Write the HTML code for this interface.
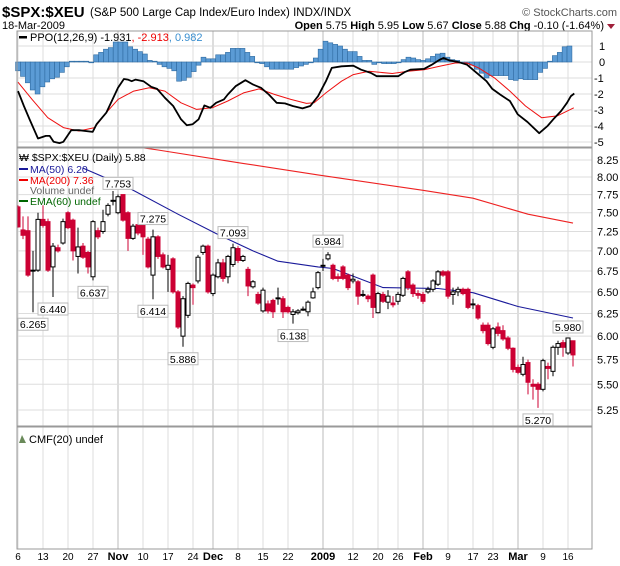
<!DOCTYPE html>
<html><head><meta charset="utf-8"><style>
body{margin:0;background:#fff}
svg{display:block;font-family:"Liberation Sans",Arial,sans-serif}
</style></head><body>
<svg id="c" width="620" height="566" viewBox="0 0 620 566">
<g>
<text x="2" y="17" font-size="15" font-weight="bold">$SPX:$XEU</text>
<text x="90" y="16" font-size="11.5">(S&amp;P 500 Large Cap Index/Euro Index)  INDX/INDX</text>
<text x="617" y="16" font-size="11" fill="#555" text-anchor="end">© StockCharts.com</text>
<text x="2" y="29" font-size="11">18-Mar-2009</text>
<text x="604" y="29" font-size="11" text-anchor="end"><tspan font-weight="bold">Open</tspan> 5.75 <tspan font-weight="bold">High</tspan> 5.95 <tspan font-weight="bold">Low</tspan> 5.67 <tspan font-weight="bold">Close</tspan> 5.88 <tspan font-weight="bold">Chg</tspan> -0.10 (-1.64%)</text>
<path d="M607 24 L615 24 L611 29 Z" fill="#a0203a"/>
</g>
<g id="grid"></g>
<g id="ppo"></g>
<g id="price"></g>
<g id="frames"></g>
</svg>
<script>
// ---- data ----
const opens=[7.58,7.27,7.26,6.76,6.76,7.41,7.38,6.8,7.04,7.1,7.5,7.4,6.93,7.06,6.98,6.68,7.26,7.25,7.48,7.67,7.5,7.75,7.5,7.16,7.34,7.33,7.15,6.7,7.18,6.95,6.77,6.9,6.5,6.0,6.23,6.58,6.63,6.98,7.06,6.48,6.68,6.85,6.68,6.83,7.03,6.88,6.77,6.56,6.47,6.28,6.36,6.4,6.43,6.42,6.32,6.24,6.26,6.3,6.27,6.43,6.55,6.82,6.9,6.82,6.68,6.8,6.7,6.63,6.62,6.47,6.45,6.7,6.26,6.47,6.38,6.37,6.39,6.46,6.74,6.58,6.48,6.47,6.5,6.53,6.59,6.74,6.74,6.47,6.5,6.53,6.53,6.36,6.34,6.12,6.12,5.88,6.1,6.06,5.98,5.87,5.67,5.6,5.72,5.5,5.5,5.45,5.68,5.63,5.88,5.93,5.82,5.95];
const closes=[7.31,7.2,6.7,6.76,7.41,7.33,6.76,7.06,7.0,7.38,7.3,7.0,7.05,6.92,6.8,7.38,7.18,7.38,7.6,7.67,7.72,7.4,7.16,7.32,7.23,7.18,6.8,7.18,6.93,6.8,6.82,6.5,6.1,6.42,6.6,6.55,6.92,7.06,6.5,6.7,6.85,6.66,6.93,7.04,6.88,6.93,6.57,6.62,6.37,6.52,6.28,6.27,6.43,6.27,6.27,6.27,6.28,6.3,6.38,6.5,6.73,6.82,6.95,6.66,6.66,6.66,6.55,6.65,6.45,6.47,6.42,6.32,6.48,6.39,6.45,6.35,6.47,6.66,6.55,6.48,6.46,6.39,6.53,6.63,6.74,6.7,6.45,6.5,6.53,6.48,6.32,6.36,6.2,6.06,5.92,6.08,6.03,5.97,5.87,5.65,5.62,5.7,5.52,5.48,5.45,5.74,5.66,5.88,5.92,5.88,5.98,5.8];
const highs=[7.6,7.45,7.45,7.0,7.5,7.6,7.42,7.1,7.08,7.42,7.52,7.42,7.3,7.1,7.0,7.4,7.3,7.54,7.63,7.8,7.753,7.75,7.52,7.35,7.36,7.35,7.18,7.275,7.2,6.98,6.95,6.92,6.52,6.45,6.62,6.6,6.95,7.08,7.08,6.72,6.9,6.9,6.95,7.093,7.06,6.95,6.8,6.64,6.5,6.55,6.4,6.42,6.55,6.45,6.34,6.3,6.3,6.33,6.4,6.55,6.75,6.9,6.984,6.84,6.72,6.82,6.72,6.72,6.64,6.52,6.47,6.72,6.5,6.5,6.52,6.45,6.5,6.68,6.76,6.6,6.52,6.5,6.56,6.65,6.76,6.76,6.76,6.55,6.56,6.55,6.55,6.42,6.36,6.15,6.15,6.1,6.15,6.12,6.0,5.88,5.7,5.78,5.75,5.55,5.52,5.76,5.72,5.9,5.95,5.96,5.98,5.95];
const lows=[7.3,7.15,6.68,6.265,6.74,7.3,6.74,6.44,6.98,7.08,7.28,6.88,6.72,6.9,6.72,6.637,7.15,7.22,7.45,7.6,7.48,7.38,7.0,7.14,7.2,6.95,6.78,6.414,6.9,6.78,6.5,6.48,6.08,5.886,6.2,6.35,6.6,6.95,6.48,6.45,6.66,6.62,6.6,6.8,6.85,6.86,6.45,6.54,6.35,6.26,6.25,6.2,6.35,6.2,6.25,6.138,6.24,6.28,6.22,6.42,6.53,6.75,6.88,6.64,6.62,6.64,6.52,6.6,6.35,6.44,6.38,6.2,6.25,6.37,6.3,6.32,6.35,6.44,6.52,6.44,6.42,6.36,6.48,6.5,6.57,6.68,6.42,6.35,6.45,6.46,6.3,6.3,6.18,6.03,5.9,5.86,6.0,5.95,5.85,5.62,5.6,5.58,5.4,5.35,5.27,5.43,5.55,5.58,5.8,5.78,5.8,5.68];
const ma50Days=[13,22,32,40,47,52,60,63,73,84,91,100,111];
const ma50Vals=[8.13,7.85,7.48,7.21,7.0,6.87,6.8,6.78,6.55,6.54,6.49,6.33,6.2];
const ma200Days=[10,28,45,60,81,91,102,111];
const ma200Vals=[8.6,8.4,8.2,8.03,7.81,7.7,7.48,7.36];
const noteDays=[3,7,15,20,27,27,33,43,55,62,110,104];
const noteVals=[6.265,6.440,6.637,7.753,7.275,6.414,5.886,7.093,6.138,6.984,5.980,5.270];
const noteAbove=[0,0,0,1,1,0,0,1,0,1,1,0];
const priceTicks=[8.25,8.00,7.75,7.50,7.25,7.00,6.75,6.50,6.25,6.00,5.75,5.50,5.25];
const hist=[-0.55,-0.9,-1.3,-1.75,-2.0,-1.55,-1.25,-1.05,-0.95,-0.65,-0.3,0.05,0.05,0.05,0.05,-0.05,0.45,0.6,0.8,0.9,1.25,1.25,1.25,0.95,0.8,0.65,0.5,0.1,0.05,-0.15,-0.3,-0.4,-0.55,-1.2,-1.15,-0.95,-0.6,-0.2,0.3,0.2,0.2,0.45,0.45,0.6,0.85,0.85,0.85,0.6,0.35,0.0,-0.1,-0.3,-0.45,-0.45,-0.45,-0.45,-0.45,-0.35,-0.25,-0.15,-0.05,0.25,0.8,1.3,1.2,1.1,1.0,0.8,0.65,0.65,0.35,0.1,0.1,-0.15,-0.05,-0.1,-0.1,-0.1,-0.05,0.15,0.3,0.25,0.15,0.1,0.2,0.35,0.5,0.55,0.3,0.15,0.1,0.0,-0.1,-0.2,-0.45,-0.7,-1.0,-0.85,-0.85,-0.85,-0.85,-1.1,-1.15,-1.05,-1.1,-1.1,-1.1,-0.65,-0.4,0.05,0.4,0.6,0.95,1.0];
const ppoDays=[0,1.2,2.4,4.1,5.7,6.5,7.3,8.5,9.3,10.9,12.5,15.3,16.1,18.1,20.5,21.7,22.5,23.3,24.1,25.7,27.3,28.5,30.1,31.8,33.4,34.6,35.8,37.0,38.2,39.4,40.6,42.2,43.0,44.6,46.6,48.2,49.8,51.4,53.0,54.7,56.3,58.3,59.9,61.5,63.1,64.3,66.3,68.7,70.3,72.3,73.5,75.9,77.9,79.2,80.4,83.2,84.8,86.4,87.2,88.4,90.4,92.0,93.6,96.0,97.2,98.8,100.8,102.4,104.4,106.8,108.5,109.7,111.3,112.5,113.3,114];
const ppoVals=[-1.82,-2.75,-3.6,-4.78,-4.62,-4.62,-4.99,-5.07,-4.99,-4.26,-4.26,-4.37,-3.89,-3.17,-1.61,-1.06,-1.1,-1.2,-1.1,-1.2,-1.55,-1.68,-2.24,-2.75,-3.58,-3.95,-3.89,-3.58,-2.71,-2.86,-2.55,-2.34,-2.03,-1.51,-1.14,-1.41,-1.61,-2.03,-2.55,-2.59,-2.75,-2.9,-2.75,-2.13,-1.2,-0.37,-0.27,-0.23,-0.48,-0.68,-0.89,-0.89,-0.89,-0.64,-0.48,-0.43,-0.17,0.14,0.25,0.1,-0.02,-0.17,-0.58,-1.2,-1.68,-2.03,-2.44,-3.27,-3.75,-4.45,-4.0,-3.58,-3.06,-2.55,-2.13,-1.97];
const sigDays=[0,2.9,6.1,9.3,12.5,15.7,18.1,20.5,23.7,26.9,30.1,33.4,36.6,39.8,43.0,46.2,49.4,52.6,55.9,59.1,60.7,63.1,66.3,68.7,71.9,76.7,79.9,83.2,86.4,89.6,92.0,94.4,97.6,100.8,104.0,107.3,110.5,113.9];
const sigVals=[-1.26,-2.35,-3.48,-4.1,-4.31,-4.1,-3.17,-2.34,-1.82,-1.61,-1.82,-2.55,-2.96,-2.86,-2.44,-1.93,-1.68,-2.03,-2.34,-2.59,-2.55,-1.93,-1.2,-0.79,-0.58,-0.72,-0.58,-0.48,-0.27,-0.06,-0.06,-0.37,-0.99,-1.82,-2.75,-3.48,-3.37,-2.86];
const ppoTicks=[1,0,-1,-2,-3,-4,-5];
const dateDays=[0,5,10,15,20,25,30,35,39,44,49,54,61,67,72,76,81,86,91,95,100,105,110];
const dateLabels=["6","13","20","27","Nov","10","17","24","Dec","8","15","22","2009","12","20","26","Feb","9","17","23","Mar","9","16"];
const dateBold=[0,0,0,0,1,0,0,0,1,0,0,0,1,0,0,0,1,0,0,0,1,0,0];

// ---- layout ----
const L=17,R=592;
const P1={t:31,b:147}, P2={t:148,b:426}, P3={t:427,b:549};
const NS="http://www.w3.org/2000/svg";
function mk(tag,attrs,parent){const e=document.createElementNS(NS,tag);for(const k in attrs)e.setAttribute(k,attrs[k]);parent.appendChild(e);return e;}
const xD=i=>18+i*5.0;
const xP=d=>18+d*4.88;
const yP=v=>62-v*16;
const LT=Math.log(8.25),LB=Math.log(5.25);
const yPr=p=>160+(LT-Math.log(p))*(250/(LT-LB));

const grid=document.getElementById('grid');
const ppoG=document.getElementById('ppo');
const priceG=document.getElementById('price');
const frames=document.getElementById('frames');

dateDays.forEach((d,i)=>{
  const x=xD(d);
  [P1,P2,P3].forEach(p=>{
    const ln=mk('line',{x1:x,x2:x,y1:p.t,y2:p.b,stroke:dateBold[i]?'#bbb':'#ddd','stroke-width':1},grid);
    
    
  });
  const t=mk('text',{x:x,y:560,'font-size':dateBold[i]?11:10,'font-weight':dateBold[i]?'bold':'normal','text-anchor':'middle'},grid);
  t.textContent=dateLabels[i];
  
  
});
priceTicks.forEach(v=>{
  const y=yPr(v);
  const ln=mk('line',{x1:L,x2:R,y1:y,y2:y,stroke:'#ddd'},grid);
  
  
  const t=mk('text',{x:597,y:y+4,'font-size':11},grid);
  t.textContent=v.toFixed(2);
  
  
});
ppoTicks.forEach(v=>{
  const y=yP(v);
  const ln=mk('line',{x1:L,x2:R,y1:y,y2:y,stroke:'#ddd'},grid);
  
  
  const t=mk('text',{x:v<0?594:599,y:y+4,'font-size':11},grid);
  t.textContent=String(v);
  
  
});

hist.forEach((v,i)=>{
  const x=xP(i)-2.4, y0=yP(0), y1=yP(v);
  const r=mk('rect',{x:x,y:Math.min(y0,y1),width:4.88,height:Math.max(0.8,Math.abs(y1-y0)),fill:'#5b9bd5',stroke:'#2e6aa0','stroke-width':0.6},ppoG);
  
  
});
function poly(days,vals,xf,yf,color,w,parent,name){
  const pts=days.map((d,i)=>xf(d).toFixed(1)+','+yf(vals[i]).toFixed(1)).join(' ');
  const p=mk('polyline',{points:pts,fill:'none',stroke:color,'stroke-width':w,'stroke-linejoin':'round'},parent);
  
  
}
poly(sigDays,sigVals,xP,yP,'#ee1111',1,ppoG,'ppo-signal-line');
poly(ppoDays,ppoVals,xP,yP,'#000',1.8,ppoG,'ppo-line');

const defs=mk('defs',{},document.getElementById('c'));
const cp=mk('clipPath',{id:'pclip'},defs);
mk('rect',{x:L,y:P2.t,width:R-L,height:P2.b-P2.t},cp);
priceG.setAttribute('clip-path','url(#pclip)');

poly(ma200Days,ma200Vals,xD,yPr,'#ee2222',1.1,priceG,'ma200-line');
poly(ma50Days,ma50Vals,xD,yPr,'#1a1a9a',1.1,priceG,'ma50-line');

opens.forEach((o,i)=>{
  const c=closes[i], x=xD(i), up=c>=o;
  const col=up?'#000':'#cc0033';
  const w=mk('line',{x1:x,x2:x,y1:yPr(highs[i]),y2:yPr(lows[i]),stroke:col,'stroke-width':1},priceG);
  
  
  const yt=yPr(Math.max(o,c)), yb=yPr(Math.min(o,c));
  const b=mk('rect',{x:x-2,y:yt,width:4,height:Math.max(1,yb-yt),fill:up?'#fff':'#cc0033',stroke:col,'stroke-width':1},priceG);
  
  
});
noteDays.forEach((d,i)=>{
  const x=xD(d), v=noteVals[i];
  const y=noteAbove[i]?yPr(v)-11:yPr(v)+12;
  const g=mk('g',{},priceG);
  
  
  mk('rect',{x:x-15,y:y-6,width:30,height:12,fill:'#fff',stroke:'#bbb','stroke-width':1},g);
  const t=mk('text',{x:x,y:y+4,'font-size':10.5,'text-anchor':'middle'},g);
  t.textContent=v.toFixed(3);
});

[P1,P2,P3].forEach((p,i)=>{
  const r=mk('rect',{x:L,y:p.t,width:R-L,height:p.b-p.t,fill:'none',stroke:'#999','stroke-width':1},frames);
  
  
});
function txt(x,y,s,fill,name,size){const t=mk('text',{x:x,y:y,'font-size':size||11,fill:fill||'#000'},frames);t.textContent=s;return t;}
mk('rect',{x:19,y:36,width:8,height:2.5,fill:'#000'},frames);
const lg=txt(30,41,'','#000','ppo-legend');
[['PPO(12,26,9) -1.931','#000'],[', -2.913','#e00'],[', 0.982','#3a8fd0']].forEach(a=>{const s=mk('tspan',{fill:a[1]},lg);s.textContent=a[0];});
mk('rect',{x:19,y:168,width:9,height:2,fill:'#1a1a9a'},frames);
mk('rect',{x:19,y:179,width:9,height:2,fill:'#e00'},frames);
mk('rect',{x:19,y:200,width:9,height:2,fill:'#060'},frames);
txt(19,161,'₩ $SPX:$XEU (Daily) 5.88','#000','price-legend',10.5);
txt(30,173,'MA(50) 6.20','#1a1a9a','ma50-legend',10.5);
txt(30,184,'MA(200) 7.36','#e00','ma200-legend',10.5);
txt(30,194,'Volume undef','#666','volume-legend',10.5);
txt(30,205,'EMA(60) undef','#060','ema-legend',10.5);
mk('path',{d:'M19 443 L22 435 L26 443 Z',fill:'#6a8a5a'},frames);
txt(29,443,'CMF(20) undef','#000','cmf-legend');
</script>
</body></html>
